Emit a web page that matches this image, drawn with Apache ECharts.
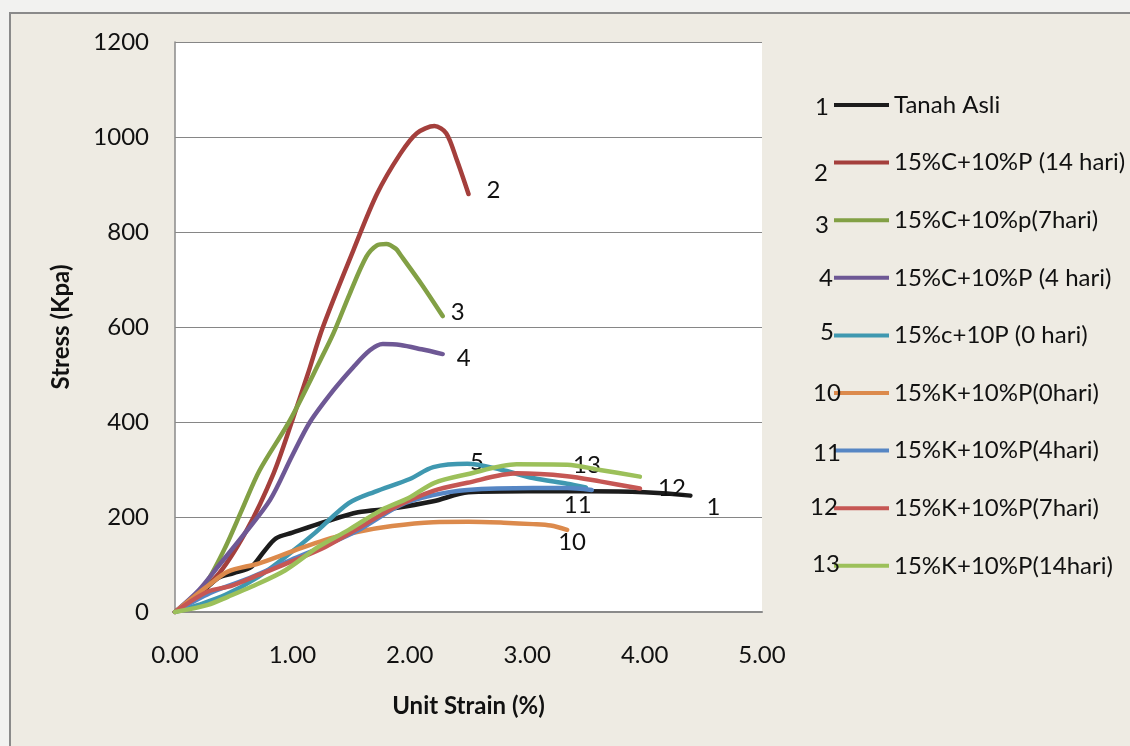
<!DOCTYPE html>
<html>
<head>
<meta charset="utf-8">
<title>Stress - Unit Strain</title>
<script src="https://cdn.jsdelivr.net/npm/echarts@6/dist/echarts.min.js"></script>
<style>
  html, body { margin: 0; padding: 0; background: #f2f2f0; }
  #chart { width: 1130px; height: 746px; }
</style>
</head>
<body>
<div id="chart"></div>
<script>
// Unconfined compression results: unit strain (%) vs stress (kPa)
const seriesNames = [
  'Tanah Asli',
  '15%C+10%P (14 hari)',
  '15%C+10%p(7hari)',
  '15%C+10%P (4 hari)',
  '15%c+10P (0 hari)',
  '15%K+10%P(0hari)',
  '15%K+10%P(4hari)',
  '15%K+10%P(7hari)',
  '15%K+10%P(14hari)'
];
const sampleNumbers = ['1', '2', '3', '4', '5', '10', '11', '12', '13'];

const tanahAsli = [[0,0],[0.2,35],[0.37,72],[0.5,82],[0.65,95],[0.76,128],[0.86,155],[1.0,167],[1.28,190],[1.56,210],[1.85,218],[2.2,233],[2.5,252],[3.0,254],[3.5,254],[4.0,252],[4.39,245]];
const c14 = [[0,0],[0.35,74],[0.61,172],[0.84,292],[1.0,404],[1.13,500],[1.26,600],[1.52,762],[1.72,880],[1.92,965],[2.06,1008],[2.21,1023],[2.31,1008],[2.4,952],[2.5,880]];
const c7 = [[0,0],[0.15,30],[0.28,67],[0.43,137],[0.57,215],[0.72,298],[0.98,404],[1.24,531],[1.35,587],[1.49,671],[1.63,748],[1.72,772],[1.8,775],[1.88,765],[1.92,752],[2.1,690],[2.28,623]];
const c4 = [[0,0],[0.2,45],[0.38,100],[0.57,158],[0.81,236],[1.0,330],[1.15,400],[1.35,467],[1.52,516],[1.66,551],[1.77,564],[1.92,562],[2.1,553],[2.28,543]];
const c0 = [[0,0],[0.2,15],[0.43,36],[0.71,74],[0.94,116],[1.19,166],[1.48,229],[1.7,253],[2.0,280],[2.2,305],[2.49,312],[2.77,300],[3.05,282],[3.34,270],[3.5,262]];
const k0 = [[0,0],[0.15,30],[0.28,55],[0.45,85],[0.71,102],[0.99,127],[1.28,152],[1.56,169],[1.85,181],[2.2,189],[2.5,190],[2.8,188],[3.05,185],[3.2,182],[3.34,173]];
const k4 = [[0,0],[0.3,40],[0.6,68],[0.99,110],[1.28,140],[1.56,172],[1.92,225],[2.2,246],[2.49,257],[3.05,261],[3.34,261],[3.55,257]];
const k7 = [[0,0],[0.28,43],[0.48,55],[0.71,78],[0.99,106],[1.28,137],[1.56,176],[1.85,218],[2.2,255],[2.49,272],[2.91,292],[3.34,286],[3.62,275],[3.96,260]];
const k14 = [[0,0],[0.28,15],[0.45,32],[0.65,53],[0.94,88],[1.22,137],[1.48,173],[1.76,215],[1.99,240],[2.21,272],[2.49,290],[2.91,311],[3.34,310],[3.62,299],[3.96,285]];

const curves = [tanahAsli, c14, c7, c4, c0, k0, k4, k7, k14];
const xTicks = [0, 1, 2, 3, 4, 5];
const yTicks = [0, 200, 400, 600, 800, 1000, 1200];

// styling
const FONT = 'Lato, "Open Sans", sans-serif';
const TEXT = '#111111';
const lineColors = ['#1c1c1c', '#a43f3c', '#82a045', '#6e5895', '#3f98b0', '#dc8a4c', '#5686c4', '#c65754', '#9cc05a'];
// where each curve's number sits, relative to its last point (px)
const numberOffsets = [[23, 12], [25, -4], [15, -4], [21, 4], [-109, -25], [5, 12], [-14, 15], [32, 0], [-53, -11]];

const series = curves.map((pts, i) => ({
  name: seriesNames[i],
  type: 'line',
  data: pts,
  smooth: 0.3,
  symbol: 'none',
  lineStyle: { color: lineColors[i], width: 4.5, cap: 'round', join: 'round' },
  itemStyle: { color: lineColors[i] },
  z: 2 + i,
  markPoint: {
    silent: true,
    symbol: 'circle',
    symbolSize: 1,
    itemStyle: { color: 'rgba(0,0,0,0)' },
    label: {
      show: true,
      position: 'inside',
      formatter: sampleNumbers[i],
      offset: numberOffsets[i],
      color: TEXT,
      fontSize: 24,
      fontFamily: FONT
    },
    data: [{ coord: pts[pts.length - 1] }]
  }
}));

// numbers printed beside the legend entries
const legendNumberPos = [[822, 107], [821, 173], [822, 225], [826, 278], [827, 332], [827, 393], [827, 453], [824, 507], [826, 564]];
const legendNumbers = sampleNumbers.map((n, i) => ({
  type: 'text',
  x: legendNumberPos[i][0],
  y: legendNumberPos[i][1],
  z: 100,
  style: {
    text: n,
    fill: TEXT,
    font: '24px ' + FONT,
    align: 'center',
    verticalAlign: 'middle'
  }
}));

const chart = echarts.init(document.getElementById('chart'), null, { renderer: 'canvas' });
chart.setOption({
  animation: false,
  backgroundColor: '#f2f2f0',
  graphic: [
    {
      type: 'rect',
      z: -10,
      silent: true,
      shape: { x: 10, y: 13, width: 1140, height: 760 },
      style: { fill: '#eeebe3', stroke: '#8a8a8a', lineWidth: 2 }
    }
  ].concat(legendNumbers),
  grid: {
    left: 175, top: 42, right: 368, bottom: 134,
    show: true, backgroundColor: '#ffffff', borderWidth: 0
  },
  legend: {
    orient: 'vertical',
    left: 829,
    top: 88,
    itemWidth: 55,
    itemHeight: 4,
    itemGap: 33.6,
    icon: 'rect',
    data: seriesNames,
    textStyle: { fontSize: 24, fontFamily: FONT, color: TEXT, lineHeight: 24 },
    selectedMode: false
  },
  xAxis: {
    type: 'value',
    min: xTicks[0],
    max: xTicks[xTicks.length - 1],
    interval: 1,
    name: 'Unit Strain (%)',
    nameLocation: 'middle',
    nameGap: 82,
    nameTextStyle: { fontSize: 24, fontWeight: 'bold', fontFamily: FONT, color: TEXT },
    axisLine: { show: true, lineStyle: { color: '#8a8a8a', width: 2 } },
    axisTick: { show: false },
    splitLine: { show: false },
    axisLabel: { margin: 31, fontSize: 24, fontFamily: FONT, color: TEXT, formatter: v => v.toFixed(2) }
  },
  yAxis: {
    type: 'value',
    min: yTicks[0],
    max: yTicks[yTicks.length - 1],
    interval: 200,
    name: 'Stress (Kpa)',
    nameLocation: 'middle',
    nameGap: 102,
    nameTextStyle: { fontSize: 24, fontWeight: 'bold', fontFamily: FONT, color: TEXT },
    axisLine: { show: true, lineStyle: { color: '#8a8a8a', width: 1.5 } },
    axisTick: { show: false },
    splitLine: { show: true, lineStyle: { color: '#868686', width: 1.2 } },
    axisLabel: { margin: 26, fontSize: 24, fontFamily: FONT, color: TEXT, formatter: v => String(v) }
  },
  series: series
});
</script>
</body>
</html>
